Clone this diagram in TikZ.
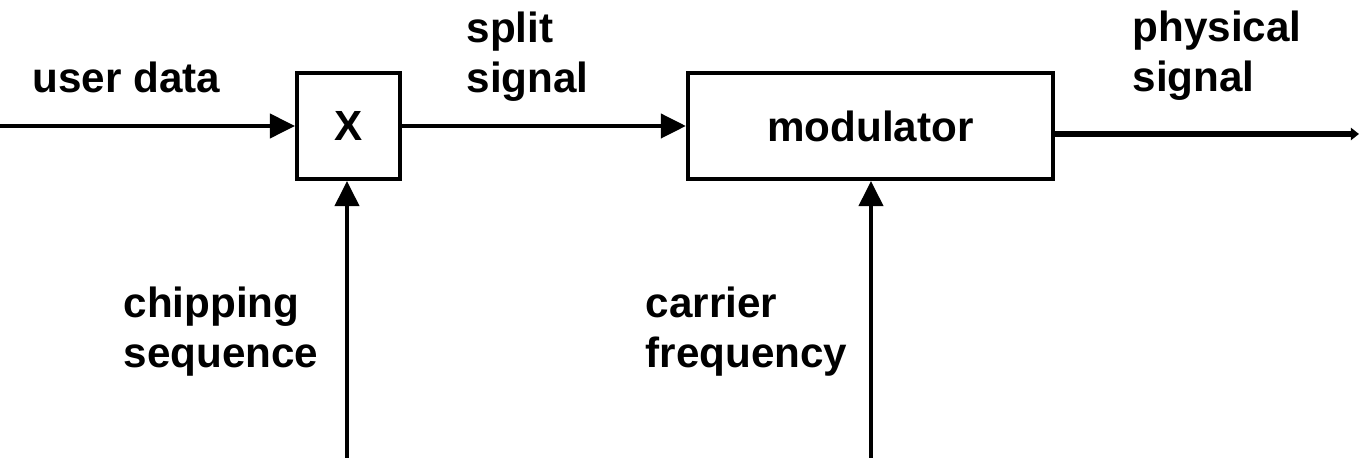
\documentclass[tikz,border=0pt]{standalone}
\usepackage{fontspec}
\setmainfont{Liberation Sans}
\usetikzlibrary{arrows.meta}

\begin{document}
\begin{tikzpicture}[x=0.01cm,y=-0.01cm,
    every node/.style={font=\bfseries\fontsize{12}{14.4}\selectfont},
    block/.style={draw, line width=0.04cm, inner sep=0pt, minimum height=1.06cm},
    sig/.style={line width=0.04cm, -{Triangle[length=0.25cm,width=0.24cm]}},
    lbl/.style={anchor=base west, align=left, inner sep=0pt}]
  \useasboundingbox (0,0) rectangle (1359,458);
  % Blocks
  \node[block, minimum width=1.03cm] (mult) at (348.5,126) {X};
  \node[block, minimum width=3.65cm] (mod) at (870.5,126) {modulator};
  % Free ends
  \coordinate (datain) at (0,126);
  \coordinate (chipin) at (347,458);
  \coordinate (carrin) at (871,458);
  \coordinate (physout) at (1359,134);
  % Signal paths
  \draw[sig] (datain) -- (mult);
  \draw[sig] (mult) -- (mod);
  \draw[sig] (chipin) -- (chipin |- mult.south);
  \draw[sig] (carrin) -- (carrin |- mod.south);
  \draw[line width=0.06cm, -{Triangle[length=0.08cm,width=0.12cm]}] (mod.east |- physout) -- (physout);
  % Labels (base = last line)
  \node[lbl] (userdata) at (32,93) {user data};
  \node[lbl] (split) at (466,93) {split\\signal};
  \node[lbl] (phys) at (1132,92) {physical\\signal};
  \node[lbl] (chip) at (123,368) {chipping\\sequence};
  \node[lbl] (carr) at (645,368) {carrier\\frequency};
\end{tikzpicture}
\end{document}
